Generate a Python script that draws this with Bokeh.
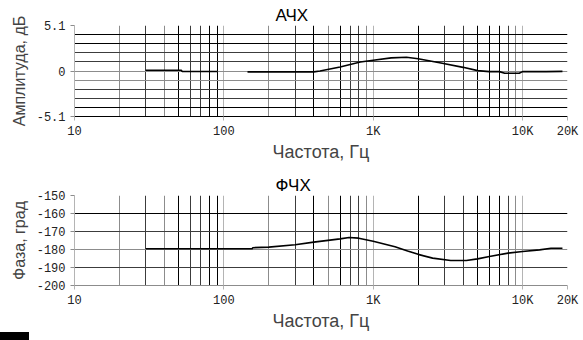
from bokeh.plotting import figure
from bokeh.models import FixedTicker, Grid, CustomJSTickFormatter
from bokeh.layouts import column
from bokeh.embed import file_html
from bokeh.resources import INLINE

# ---- data ----
amp_freq = [30, 52, 52.5, 91, float("nan"), 144, 400, 440, 600, 820, 1000, 1320,
            1670, 2000, 2900, 4000, 5000, 6000, 7000, 7600, 9500, 10000, 14400, 18500]
amp_db = [0.08, 0.08, -0.05, -0.05, float("nan"), -0.1, -0.1, 0.0, 0.45, 1.0, 1.2, 1.47,
          1.54, 1.38, 0.86, 0.41, 0.04, -0.07, -0.07, -0.26, -0.26, -0.07, -0.07, -0.04]

ph_freq = [30, 155, 156, 200, 300, 400, 600, 690, 800, 1000, 1400, 1700, 2000, 2500,
           3300, 4200, 5000, 6000, 8000, 10000, 13000, 15500, 18500]
ph_deg = [-179.6, -179.6, -179.0, -178.7, -177.4, -175.9, -174.1, -173.3, -173.7, -175.4,
          -178.5, -180.8, -182.7, -184.8, -186.1, -186.1, -185.2, -183.9, -182.0, -181.1,
          -180.2, -179.3, -179.3]

x_tick_vals = [10, 100, 1000, 10000, 20000]
x_tick_labels = ["10", "100", "1K", "10K", "20K"]
amp_tick_vals = [-5.1, 0, 5.1]
amp_tick_labels = ["-5.1", "0", "5.1"]
ph_tick_vals = [-200, -190, -180, -170, -160, -150]
ph_tick_labels = ["-200", "-190", "-180", "-170", "-160", "-150"]

# grid lines grouped by their shade in the reference
vgrid_black = [50, 80, 90, 400, 600, 2000, 5000, 6000, 7000]
vgrid_dark = [30, 60, 70, 300, 700, 800, 3000, 4000, 8000]
vgrid_gray = [20, 40, 200, 500, 900, 9000]
vgrid_light = [100, 1000, 10000, 20000]
amp_h_black = [-4.08, 3.06, 4.08, 5.1]
amp_h_dark = [-3.06, -2.04, 1.02, 2.04]
amp_h_gray = [-1.02, 0]
ph_h_black = [-160, -150]
ph_h_dark = [-190, -170]
ph_h_gray = [-180]

SANS = "Liberation Sans"
MONO = "Liberation Mono"
BLACK, DARK, GRAY, LIGHT = "#000000", "#3c3c3c", "#8c8c8c", "#b4b4b4"

FMT_CODE = "const i = vals.findIndex(v => Math.abs(v - tick) < 1e-9); return i >= 0 ? labs[i] : '';"

CORNER_CSS = (":host::after { content: ''; position: absolute; left: 0px; bottom: 0px; "
              "width: 29px; height: 8px; background: #000; z-index: 10; }")


def make(title, ylabel, yr, yticks, ylabels, hb, hd, hg, h, top_b, bot_b, xline, css=None):
    kw = {}
    if css:
        kw["stylesheets"] = [css]
    p = figure(width=583, height=h,
               x_axis_type="log", x_range=(10, 20000), y_range=yr,
               output_backend="svg", toolbar_location=None,
               min_border_left=74, min_border_right=16,
               min_border_top=top_b, min_border_bottom=bot_b,
               background_fill_color="white", border_fill_color="white", **kw)
    p.outline_line_color = None
    p.xgrid.visible = False
    p.ygrid.visible = False
    for ticks, col in ((vgrid_light, LIGHT), (vgrid_gray, GRAY), (vgrid_dark, DARK), (vgrid_black, BLACK)):
        p.add_layout(Grid(dimension=0, ticker=FixedTicker(ticks=ticks),
                          grid_line_color=col, grid_line_width=1))
    for ticks, col in ((hg, GRAY), (hd, DARK), (hb, BLACK)):
        p.add_layout(Grid(dimension=1, ticker=FixedTicker(ticks=ticks),
                          grid_line_color=col, grid_line_width=1))

    p.title.text = title
    p.title.align = "left"
    p.title.offset = 201
    p.title.text_font = SANS
    p.title.text_font_size = "17px"
    p.title.text_font_style = "normal"
    p.title.text_color = "black"
    p.title.standoff = 2

    xa = p.xaxis[0]
    xa.ticker = FixedTicker(ticks=x_tick_vals)
    xa.formatter = CustomJSTickFormatter(args=dict(vals=x_tick_vals, labs=x_tick_labels), code=FMT_CODE)
    xa.axis_label = "Частота, Гц"
    xa.axis_label_text_font = SANS
    xa.axis_label_text_font_size = "18px"
    xa.axis_label_text_font_style = "normal"
    xa.axis_label_standoff = 0
    xa.major_label_text_font = MONO
    xa.major_label_text_font_size = "12px"
    xa.major_label_text_color = "#222222"
    xa.major_label_standoff = 4
    xa.axis_line_color = xline
    xa.major_tick_line_color = LIGHT
    xa.major_tick_out = 4
    xa.major_tick_in = 0
    xa.minor_tick_line_color = None

    ya = p.yaxis[0]
    ya.ticker = FixedTicker(ticks=yticks)
    ya.formatter = CustomJSTickFormatter(args=dict(vals=yticks, labs=ylabels), code=FMT_CODE)
    ya.axis_label = ylabel
    ya.axis_label_text_font = SANS
    ya.axis_label_text_font_size = "16px"
    ya.axis_label_text_font_style = "normal"
    ya.axis_label_standoff = 6
    ya.major_label_text_font = MONO
    ya.major_label_text_font_size = "12px"
    ya.major_label_text_color = "#222222"
    ya.major_label_standoff = 5
    ya.axis_line_color = LIGHT
    ya.major_tick_line_color = GRAY
    ya.major_tick_out = 4
    ya.major_tick_in = 0
    ya.minor_tick_line_color = None
    return p


top = make("АЧХ", "Амплитуда, дБ", (-5.1, 5.1), amp_tick_vals, amp_tick_labels,
           amp_h_black, amp_h_dark, amp_h_gray, 165, 25, 49, BLACK)
top.line(amp_freq, amp_db, line_color="black", line_width=1.6)

bot = make("ФЧХ", "Фаза, град", (-200, -150), ph_tick_vals, ph_tick_labels,
           ph_h_black, ph_h_dark, ph_h_gray, 175, 30, 55, GRAY, css=CORNER_CSS)
bot.line(ph_freq, ph_deg, line_color="black", line_width=1.6)

layout = column(top, bot, spacing=0)
open("out.html", "w").write(file_html(layout, INLINE))
